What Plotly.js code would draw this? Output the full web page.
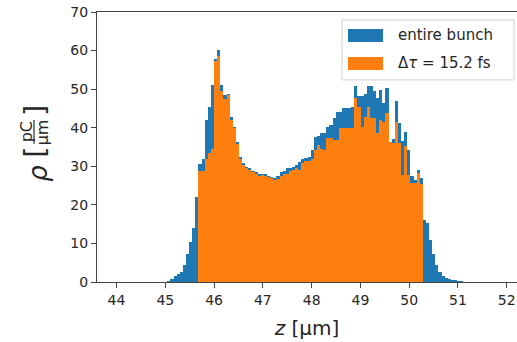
<!DOCTYPE html>
<html>
<head>
<meta charset="utf-8">
<script src="https://cdn.plot.ly/plotly-3.0.1.min.js"></script>
<style>
  html, body { margin: 0; padding: 0; background: #fff; }
  #chart { width: 517px; height: 342px; }
</style>
</head>
<body>
<div id="chart"></div>
<script>
// Longitudinal charge density histograms (pC/µm) on a common bin grid.
const binWidth = 0.0639;          // µm
const sliceStart = 45.68;         // left edge of the first slice bin, µm
const sliceOffset = 10;           // number of bunch bins before the slice starts

// Entire bunch: 95 bins
const entireBunch = [
  0.3, 0.8, 1.6, 2.0, 2.6, 4.5, 7.3, 10.5, 14.0, 22.0,
  30.5, 32.0, 42.0, 45.5, 51.0, 57.8, 60.2, 51.0, 48.6, 48.8,
  42.8, 40.3, 36.3, 32.3, 30.8, 29.9, 29.5, 28.8, 28.5, 28.0,
  28.1, 27.9, 27.6, 27.3, 26.9, 27.4, 28.4, 28.7, 29.5, 29.5,
  29.8, 30.4, 31.2, 31.9, 32.1, 32.4, 34.3, 37.5, 37.8, 38.6,
  38.6, 40.3, 40.8, 42.5, 44.0, 44.2, 45.1, 45.1, 45.1, 45.3,
  50.7, 48.1, 48.1, 48.8, 50.7, 50.7, 49.4, 47.7, 49.9, 46.4,
  50.3, 36.2, 37.0, 46.8, 41.2, 36.5, 38.8, 34.3, 27.6, 26.5,
  29.1, 27.0,
  16.0, 15.2, 11.0, 7.3, 4.5, 2.7, 1.6, 1.0, 0.8, 0.6, 0.5, 0.3, 0.2
];

// Slice of duration Δτ = 15.2 fs: 72 bins
const sliceCharge = [
  28.7, 28.7, 32.0, 33.5, 34.5, 57.4, 58.6, 49.4, 47.4, 48.5,
  42.0, 39.9, 35.9, 31.9, 30.4, 29.5, 29.1, 28.4, 28.1, 27.6,
  27.7, 27.6, 27.2, 27.0, 26.5, 26.7, 27.4, 28.0, 28.0, 28.7,
  29.0, 29.5, 29.1, 30.8, 31.3, 31.5, 32.0, 34.3, 35.6, 34.6,
  34.3, 37.3, 37.3, 36.7, 36.7, 39.9, 39.9, 39.9, 39.9, 39.9,
  47.7, 45.5, 40.3, 42.9, 45.4, 42.5, 42.5, 38.6, 42.1, 41.6,
  43.8, 36.2, 36.0, 41.6, 36.0, 27.8, 35.2, 27.8, 25.7, 25.7,
  28.3, 25.5
];

const legendLabels = ['entire bunch', 'Δ<i>τ</i> = 15.2 fs'];
const colors = ['#1f77b4', '#ff7f0e'];

const bunchStart = sliceStart - sliceOffset * binWidth;
const bunchX = entireBunch.map((_, i) => bunchStart + (i + 0.5) * binWidth);
const sliceX = sliceCharge.map((_, i) => sliceStart + (i + 0.5) * binWidth);

const traces = [
  { type: 'bar', x: bunchX, y: entireBunch, width: binWidth,
    marker: { color: colors[0], line: { width: 0 } }, name: legendLabels[0], showlegend: false },
  { type: 'bar', x: sliceX, y: sliceCharge, width: binWidth,
    marker: { color: colors[1], line: { width: 0 } }, name: legendLabels[1], showlegend: false }
];

// plot-area geometry in pixels, used to place the hand-built legend and y label
const L = 97, R = 517, T = 12, B = 282.3;
const px = x => (x - L) / (R - L);
const py = y => (B - y) / (B - T);

const font = 'DejaVu Sans, Verdana, sans-serif';
const textColor = '#262626';

const shapes = [
  // legend frame
  { type: 'rect', xref: 'paper', yref: 'paper', x0: px(342), x1: px(514), y0: py(80), y1: py(20),
    line: { color: '#d0d0d0', width: 1 }, fillcolor: 'rgba(255,255,255,0.8)', layer: 'above' },
  { type: 'rect', xref: 'paper', yref: 'paper', x0: px(348), x1: px(383), y0: py(42), y1: py(29),
    line: { width: 0 }, fillcolor: colors[0], layer: 'above' },
  { type: 'rect', xref: 'paper', yref: 'paper', x0: px(348), x1: px(383), y0: py(70), y1: py(57),
    line: { width: 0 }, fillcolor: colors[1], layer: 'above' },
  // fraction bar of the y-axis unit
  { type: 'line', xref: 'paper', yref: 'paper', x0: px(34), x1: px(34), y0: py(144), y1: py(120),
    line: { color: textColor, width: 1.2 } }
];

const annotations = [
  { xref: 'paper', yref: 'paper', x: px(396), y: py(35.5), xanchor: 'left', yanchor: 'middle',
    text: legendLabels[0], showarrow: false, font: { family: font, size: 15, color: textColor } },
  { xref: 'paper', yref: 'paper', x: px(396), y: py(63.5), xanchor: 'left', yanchor: 'middle',
    text: legendLabels[1], showarrow: false, font: { family: font, size: 15, color: textColor } },
  // y-axis label: ρ [pC / µm], rotated
  { xref: 'paper', yref: 'paper', x: px(38), y: py(174), xanchor: 'center', yanchor: 'middle',
    text: '<i>ρ</i>', textangle: -90, showarrow: false, font: { family: font, size: 26, color: textColor } },
  { xref: 'paper', yref: 'paper', x: px(35), y: py(153), xanchor: 'center', yanchor: 'middle',
    text: '[', textangle: -90, showarrow: false, font: { family: font, size: 29, color: textColor } },
  { xref: 'paper', yref: 'paper', x: px(26.5), y: py(132), xanchor: 'center', yanchor: 'middle',
    text: 'pC', textangle: -90, showarrow: false, font: { family: font, size: 16, color: textColor } },
  { xref: 'paper', yref: 'paper', x: px(42.5), y: py(132), xanchor: 'center', yanchor: 'middle',
    text: 'μm', textangle: -90, showarrow: false, font: { family: font, size: 16, color: textColor } },
  { xref: 'paper', yref: 'paper', x: px(35), y: py(111), xanchor: 'center', yanchor: 'middle',
    text: ']', textangle: -90, showarrow: false, font: { family: font, size: 29, color: textColor } }
];

const layout = {
  width: 517, height: 342,
  margin: { l: L, r: 0, t: T, b: 342 - B },
  paper_bgcolor: '#fff', plot_bgcolor: '#fff',
  barmode: 'overlay', bargap: 0,
  showlegend: false,
  font: { family: font, color: textColor },
  xaxis: {
    range: [43.6, 52.21], tickmode: 'array', tickvals: [44, 45, 46, 47, 48, 49, 50, 51, 52],
    ticks: 'outside', ticklen: 5, tickwidth: 1, tickcolor: '#444',
    showline: true, linecolor: '#444', linewidth: 1, mirror: true,
    showgrid: false, zeroline: false, ticklabeloverflow: 'allow',
    tickfont: { family: font, size: 14, color: textColor },
    title: { text: '<i>z</i> [μm]', font: { family: font, size: 20, color: textColor }, standoff: 14 }
  },
  yaxis: {
    range: [0, 70], tickmode: 'array', tickvals: [0, 10, 20, 30, 40, 50, 60, 70],
    ticks: 'outside', ticklen: 5, tickwidth: 1, tickcolor: '#444',
    showline: true, linecolor: '#444', linewidth: 1, mirror: false,
    showgrid: false, zeroline: false,
    tickfont: { family: font, size: 14, color: textColor }
  },
  shapes: shapes,
  annotations: annotations
};

Plotly.newPlot('chart', traces, layout, { displayModeBar: false, staticPlot: true });
</script>
</body>
</html>
